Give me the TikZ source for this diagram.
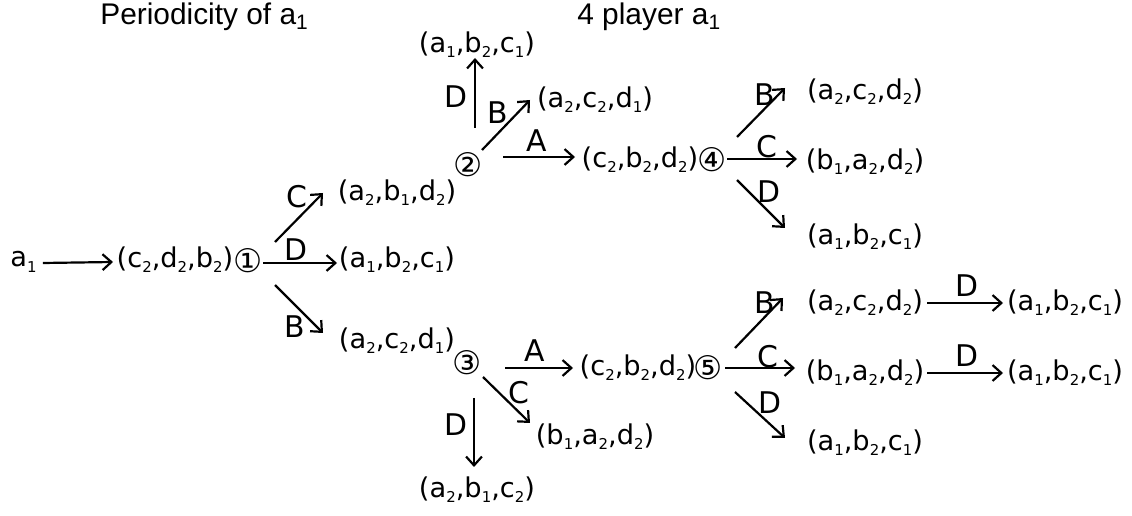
\documentclass[tikz,border=0pt]{standalone}
\usepackage{fontspec}
\setmainfont{DejaVu Sans}
\newfontfamily\titlefont{Liberation Sans}
\usetikzlibrary{calc,arrows.meta}
\newcommand\subs[1]{\raisebox{-0.35ex}{\fontsize{8.5pt}{8.5pt}\selectfont #1}}
\def\tpl(#1#2,#3#4,#5#6){(#1\subs{#2},#3\subs{#4},#5\subs{#6})}
\tikzset{
  tup/.style={inner sep=0pt, font=\fontsize{15.5pt}{18pt}\selectfont},
  num/.style={inner sep=0pt, font=\fontsize{18.5pt}{22pt}\selectfont},
  lab/.style={inner sep=0pt, font=\fontsize{17pt}{20pt}\selectfont},
  ttl/.style={inner sep=0pt, anchor=base west, font=\titlefont\fontsize{17pt}{20pt}\selectfont},
  arr/.style={line width=1.25pt, -{Straight Barb[length=5pt,width=9pt,line width=1.25pt]}},
}
\begin{document}
\begin{tikzpicture}[x=0.02cm, y=-0.02cm]
\useasboundingbox (0,0) rectangle (1132,516);
% titles
\node[ttl] (ttl1) at (100,25) {Periodicity of a\textsubscript{1}};
\node[ttl] (ttl2) at (577,25) {4 player a\textsubscript{1}};
% states
\node[tup, anchor=base west] (s0) at (10,267) {a\subs{1}};
\node[tup] (t0) at (175,260) {\tpl(c2,d2,b2)};
\node[num] (n1) at (248,261) {①};
\node[tup] (t1) at (397,193) {\tpl(a2,b1,d2)};
\node[tup] (t2) at (397,260) {\tpl(a1,b2,c1)};
\node[tup] (t3) at (397,341) {\tpl(a2,c2,d1)};
\node[num] (n2) at (468,165) {②};
\node[num] (n3) at (467,363) {③};
\node[tup] (t4) at (477,45) {\tpl(a1,b2,c1)};
\node[tup] (t5) at (595,100) {\tpl(a2,c2,d1)};
\node[tup] (t6) at (640,160) {\tpl(c2,b2,d2)};
\node[num] (n4) at (712,160) {④};
\node[tup] (t10) at (638,368) {\tpl(c2,b2,d2)};
\node[num] (n5) at (708,368) {⑤};
\node[tup] (t11) at (595,437) {\tpl(b1,a2,d2)};
\node[tup] (t12) at (477,490) {\tpl(a2,b1,c2)};
\node[tup] (t7) at (865,92) {\tpl(a2,c2,d2)};
\node[tup] (t8) at (865,162) {\tpl(b1,a2,d2)};
\node[tup] (t9) at (865,237) {\tpl(a1,b2,c1)};
\node[tup] (t13) at (865,303) {\tpl(a2,c2,d2)};
\node[tup] (t14) at (865,373) {\tpl(b1,a2,d2)};
\node[tup] (t15) at (865,443) {\tpl(a1,b2,c1)};
\node[tup] (t16) at (1065,303) {\tpl(a1,b2,c1)};
\node[tup] (t17) at (1065,373) {\tpl(a1,b2,c1)};
% moves
\draw[arr] ($(s0.base east)+(6,-4)$) -- ($(t0)+(-62,2)$);
\draw[arr] ($(n1)+(15,2)$) -- node[lab, pos=.45, above=0.02cm] (m1) {D} ($(t2)+(-60,3)$);
\draw[arr] ($(n1)+(27,-19)$) -- node[lab, pos=.92, left=0.22cm] (m2) {C} ($(t1)+(-74,0)$);
\draw[arr] ($(n1)+(27,24)$) -- node[lab, pos=.87, left=0.22cm] (m3) {B} ($(t3)+(-74,-8)$);
\draw[arr] ($(n2)+(7,-37)$) -- node[lab, pos=.45, left=0.12cm] (m4) {D} ($(t4)+(-2,13)$);
\draw[arr] ($(n2)+(14,-15)$) -- node[lab, pos=.74, left=0.16cm] (m5) {B} ($(t5)+(-65,0)$);
\draw[arr] ($(n2)+(35,-8)$) -- node[lab, pos=.47, above=0.08cm] (m6) {A} ($(t6)+(-65,-3)$);
\draw[arr] ($(n4)+(25,-23)$) -- node[lab, pos=.86, left=0.04cm] (m7) {B} ($(t7)+(-80,-4)$);
\draw[arr] ($(n4)+(15,-1)$) -- node[lab, pos=.57, above=0cm] (m8) {C} ($(t8)+(-68,-3)$);
\draw[arr] ($(n4)+(25,20)$) -- node[lab, pos=.25, right=0.14cm] (m9) {D} ($(t9)+(-80,-9)$);
\draw[arr] ($(n3)+(38,5)$) -- node[lab, pos=.44, above=0.1cm] (m10) {A} ($(t10)+(-65,0)$);
\draw[arr] ($(n3)+(16,14)$) -- node[lab, pos=.35, right=0.16cm] (m11) {C} ($(t11)+(-65,-14)$);
\draw[arr] ($(n3)+(7,35)$) -- node[lab, pos=.39, left=0.1cm] (m12) {D} ($(t12)+(-3,-23)$);
\draw[arr] ($(n5)+(27,-20)$) -- node[lab, pos=.9, left=0.04cm] (m13) {B} ($(t13)+(-82,-5)$);
\draw[arr] ($(n5)+(17,0)$) -- node[lab, pos=.61, above=-0.02cm] (m14) {C} ($(t14)+(-70,-5)$);
\draw[arr] ($(n5)+(27,24)$) -- node[lab, pos=.24, right=0.2cm] (m15) {D} ($(t15)+(-80,-5)$);
\draw[arr] ($(t13)+(62,0)$) -- node[lab, pos=.53, above=0.1cm] (m16) {D} ($(t16)+(-62,0)$);
\draw[arr] ($(t14)+(62,0)$) -- node[lab, pos=.53, above=0.1cm] (m17) {D} ($(t17)+(-62,0)$);
\end{tikzpicture}
\end{document}
